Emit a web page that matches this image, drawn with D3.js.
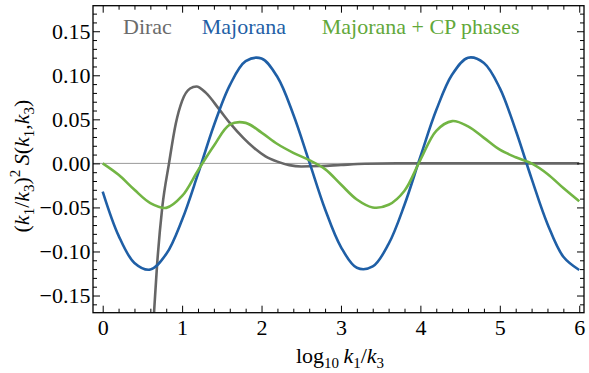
<!DOCTYPE html>
<html>
<head>
<meta charset="utf-8">
<script src="https://cdn.jsdelivr.net/npm/d3@7"></script>
<style>
  html, body { margin: 0; padding: 0; background: #fff; }
  svg { display: block; }
  .axis path { display: none; }
  .axis line { stroke: #000; stroke-width: 1; }
</style>
</head>
<body>
<div id="chart"></div>
<script>
const FONT = "'Liberation Serif', Tinos, 'Times New Roman', Times, serif";

// Majorana: uniform grid, step 0.2
const majX = [0, 0.2, 0.4, 0.6, 0.8, 1.0, 1.2, 1.4, 1.6, 1.8, 2.0, 2.2, 2.4, 2.6, 2.8, 3.0,
              3.2, 3.4, 3.6, 3.8, 4.0, 4.2, 4.4, 4.6, 4.8, 5.0, 5.2, 5.4, 5.6, 5.8, 6.0];
const majY = [-0.032, -0.082, -0.113, -0.1205, -0.103, -0.064, -0.012, 0.043, 0.0886, 0.116, 0.119,
              0.098, 0.0555, 0.002, -0.052, -0.095, -0.1185, -0.117, -0.0915, -0.047, 0.0076,
              0.0605, 0.1008, 0.120, 0.114, 0.0855, 0.0376, -0.0173, -0.0687, -0.106, -0.121];

// Majorana + CP phases
const cpX = majX;
const cpY = [0.000, -0.013, -0.030, -0.045, -0.0505, -0.037, -0.008, 0.020, 0.044, 0.046, 0.035,
             0.022, 0.012, 0.0037, -0.0065, -0.024, -0.041, -0.050, -0.047, -0.031, 0.004,
             0.037, 0.048, 0.042, 0.029, 0.0155, 0.007, 0.000, -0.012, -0.028, -0.043];

// Dirac
const diracX = [0.62, 0.646, 0.685, 0.75, 0.835, 0.92, 1.0, 1.1, 1.18, 1.3, 1.47, 1.6, 1.77,
                1.9, 2.05, 2.2, 2.35, 2.5, 2.75, 3.0, 3.3, 3.7, 6.0];
const diracY = [-0.205, -0.17, -0.115, -0.05, 0.0, 0.045, 0.071, 0.085, 0.0873, 0.080, 0.061,
                0.046, 0.029, 0.018, 0.008, 0.002, -0.002, -0.0035, -0.003, -0.0018, -0.0005, 0, 0];

const xTicks = [0, 1, 2, 3, 4, 5, 6];
const yTicks = [-0.15, -0.10, -0.05, 0.00, 0.05, 0.10, 0.15];

const legendItems = [
  { label: 'Dirac', color: '#6b6b6b', x: 123 },
  { label: 'Majorana', color: '#1f5fa6', x: 201.7 },
  { label: 'Majorana + CP phases', color: '#62a83a', x: 321.7 }
];

const width = 589, height = 373;
const L = 93, R = 584, T = 5.7, B = 312.7;

const svg = d3.select('#chart').append('svg')
  .attr('width', width).attr('height', height)
  .style('font-family', FONT);

const x = d3.scaleLinear().domain([-0.122, 6.06]).range([L, R]);
const y = d3.scaleLinear().domain([-0.1695, 0.179]).range([B, T]);

svg.append('clipPath').attr('id', 'clip')
  .append('rect').attr('x', L).attr('y', T).attr('width', R - L).attr('height', B - T);

// zero line
svg.append('line')
  .attr('x1', L).attr('x2', R).attr('y1', y(0)).attr('y2', y(0))
  .attr('stroke', '#999').attr('stroke-width', 1);

const line = d3.line()
  .x(d => x(d[0])).y(d => y(d[1]))
  .curve(d3.curveMonotoneX);

const plot = svg.append('g').attr('clip-path', 'url(#clip)');

plot.append('path')
  .datum(d3.zip(diracX, diracY))
  .attr('d', line)
  .attr('fill', 'none').attr('stroke', '#666').attr('stroke-width', 2.6);

plot.append('path')
  .datum(d3.zip(majX, majY))
  .attr('d', line.curve(d3.curveCatmullRom))
  .attr('fill', 'none').attr('stroke', '#1f5fa6').attr('stroke-width', 2.6);

plot.append('path')
  .datum(d3.zip(cpX, cpY))
  .attr('d', line.curve(d3.curveCatmullRom))
  .attr('fill', 'none').attr('stroke', '#72b544').attr('stroke-width', 2.6);

// axes (inward ticks on all four sides)
const xMinor = d3.range(0, 6.01, 0.2).filter(v => Math.abs(v - Math.round(v)) > 1e-6);
const yMinor = d3.range(-0.16, 0.171, 0.01).filter(v => Math.abs(v * 20 - Math.round(v * 20)) > 1e-6);

const fmtY = d3.format('.2f');

function axis(gen, tx, ty) {
  const g = svg.append('g').attr('class', 'axis')
    .attr('transform', `translate(${tx},${ty})`)
    .call(gen);
  g.attr('font-family', null).attr('font-size', null);
  g.selectAll('text').style('font-family', FONT).style('font-size', '22px').attr('fill', '#000');
  return g;
}

axis(d3.axisBottom(x).tickValues(xTicks).tickSize(-7).tickPadding(7).tickFormat(d3.format('d')), 0, B);
axis(d3.axisBottom(x).tickValues(xMinor).tickSize(-4).tickFormat(''), 0, B);
axis(d3.axisTop(x).tickValues(xTicks).tickSize(-7).tickFormat(''), 0, T);
axis(d3.axisTop(x).tickValues(xMinor).tickSize(-4).tickFormat(''), 0, T);

axis(d3.axisLeft(y).tickValues(yTicks).tickSize(-7).tickPadding(2.5).tickFormat(fmtY), L, 0);
axis(d3.axisLeft(y).tickValues(yMinor).tickSize(-4).tickFormat(''), L, 0);
axis(d3.axisRight(y).tickValues(yTicks).tickSize(-7).tickFormat(''), R, 0);
axis(d3.axisRight(y).tickValues(yMinor).tickSize(-4).tickFormat(''), R, 0);

// frame
svg.append('rect')
  .attr('x', L).attr('y', T).attr('width', R - L).attr('height', B - T)
  .attr('fill', 'none').attr('stroke', '#000').attr('stroke-width', 1.3);

// legend labels
svg.selectAll('.legend').data(legendItems).join('text')
  .attr('class', 'legend')
  .attr('x', d => d.x).attr('y', 34)
  .attr('fill', d => d.color)
  .style('font-family', FONT)
  .style('font-size', '22px')
  .text(d => d.label);

// x axis title: log10 k1/k3
const xt = svg.append('text')
  .attr('x', 340).attr('y', 363)
  .attr('text-anchor', 'middle')
  .style('font-family', FONT)
  .style('font-size', '22px');
xt.append('tspan').text('log');
xt.append('tspan').attr('dy', 5).style('font-size', '15px').text('10');
xt.append('tspan').attr('dy', -5).text('\u2009');
xt.append('tspan').style('font-style', 'italic').text('k');
xt.append('tspan').attr('dy', 5).style('font-size', '15px').text('1');
xt.append('tspan').attr('dy', -5).text('/');
xt.append('tspan').style('font-style', 'italic').text('k');
xt.append('tspan').attr('dy', 5).style('font-size', '15px').text('3');

// y axis title: (k1/k3)^2 S(k1,k3)
const yt = svg.append('text')
  .attr('transform', 'translate(29,166) rotate(-90)')
  .attr('text-anchor', 'middle')
  .style('font-family', FONT)
  .style('font-size', '22px');
yt.append('tspan').text('(');
yt.append('tspan').style('font-style', 'italic').text('k');
yt.append('tspan').attr('dy', 5).style('font-size', '15px').text('1');
yt.append('tspan').attr('dy', -5).text('/');
yt.append('tspan').style('font-style', 'italic').text('k');
yt.append('tspan').attr('dy', 5).style('font-size', '15px').text('3');
yt.append('tspan').attr('dy', -5).text(')');
yt.append('tspan').attr('dy', -9).style('font-size', '15px').text('2');
yt.append('tspan').attr('dy', 9).style('font-style', 'italic').text('\u2009S');
yt.append('tspan').text('(');
yt.append('tspan').style('font-style', 'italic').text('k');
yt.append('tspan').attr('dy', 5).style('font-size', '15px').text('1');
yt.append('tspan').attr('dy', -5).text(',');
yt.append('tspan').style('font-style', 'italic').text('k');
yt.append('tspan').attr('dy', 5).style('font-size', '15px').text('3');
yt.append('tspan').attr('dy', -5).text(')');
</script>
</body>
</html>
